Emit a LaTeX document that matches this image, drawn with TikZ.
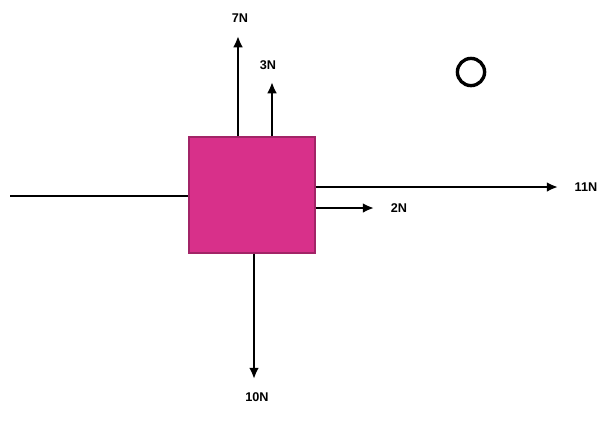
\documentclass[tikz,border=0pt]{standalone}
\usepackage{fontspec}
\setmainfont{Liberation Sans}
\usetikzlibrary{arrows.meta}
\definecolor{block}{HTML}{D8308A}

\begin{document}
\begin{tikzpicture}[x=0.025cm,y=-0.025cm,
  force/.style={line width=1.8pt,-{Latex[length=8pt,width=7pt]}},
  lbl/.style={font=\bfseries\small,inner sep=1pt}]
  \useasboundingbox (0,0) rectangle (611,424);
  \node[fill=block,draw=block!75!black,line width=0.8pt,minimum width=3.15cm,minimum height=2.9cm,inner sep=0] (box) at (252,195) {};
  % free ends of the forces
  \coordinate (t7) at (238,36);
  \coordinate (t3) at (272,82);
  \coordinate (t11) at (558,187);
  \coordinate (t2) at (374,208);
  \coordinate (t10) at (254,379);
  \coordinate (w) at (10,196);
  \draw[line width=1.8pt] (w) -- (w -| box.west);
  \draw[force] (t7 |- box.north) -- (t7);
  \draw[force] (t3 |- box.north) -- (t3);
  \draw[force] (t11 -| box.east) -- (t11);
  \draw[force] (t2 -| box.east) -- (t2);
  \draw[force] (t10 |- box.south) -- (t10);
  \node[lbl] (l7) at (240,18) {7N};
  \node[lbl] (l3) at (268,65) {3N};
  \node[lbl] (l11) at (586,187) {11N};
  \node[lbl] (l2) at (399,208) {2N};
  \node[lbl] (l10) at (257,397) {10N};
  \node[draw,circle,line width=2.4pt,minimum size=0.68cm,inner sep=0] (o) at (471,72) {};
\end{tikzpicture}
\end{document}
